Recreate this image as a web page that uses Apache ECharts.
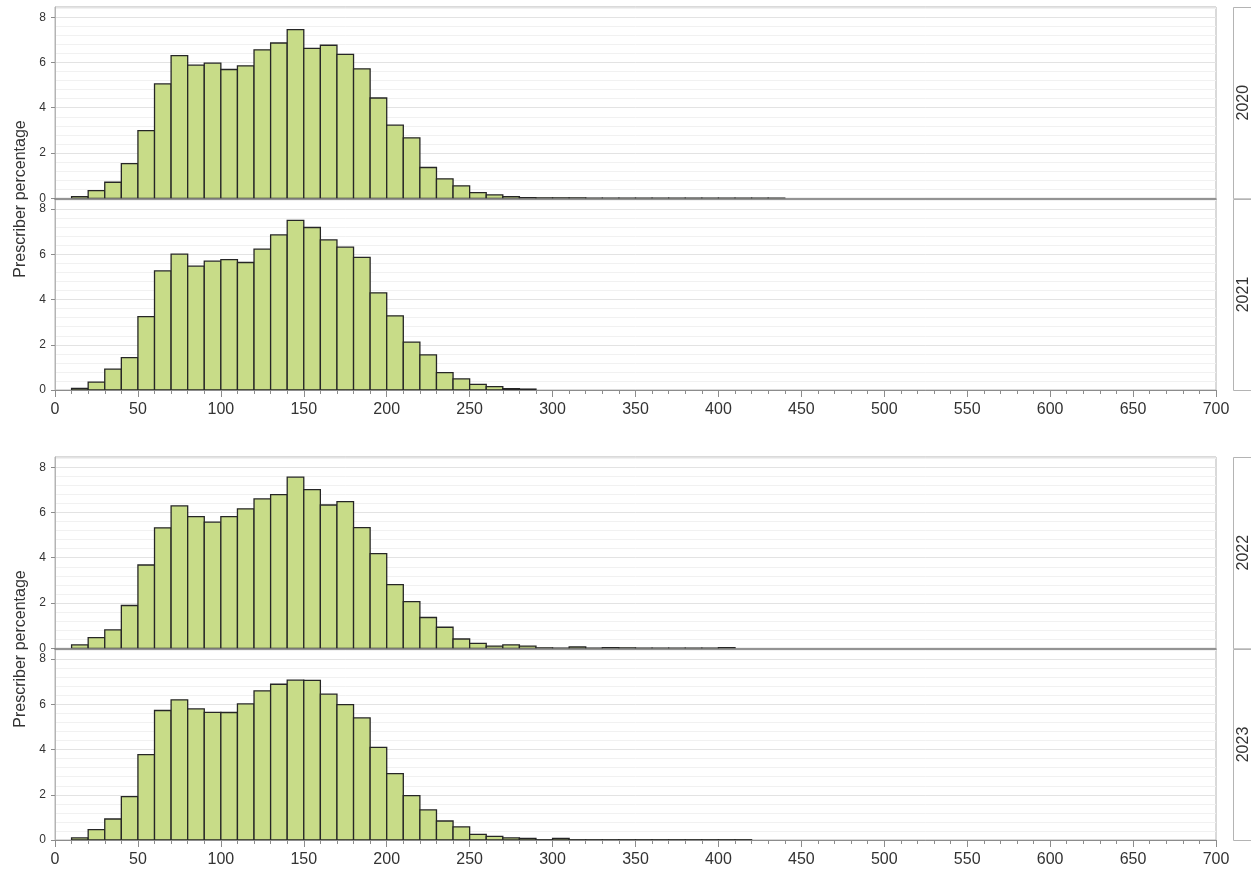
<!DOCTYPE html>
<html>
<head>
<meta charset="utf-8">
<script src="https://cdn.jsdelivr.net/npm/echarts@6/dist/echarts.min.js"></script>
<style>html,body{margin:0;padding:0;background:#fff}#c{width:1251px;height:878px}</style>
</head>
<body>
<div id="c"></div>
<script>
const years = ['2020', '2021', '2022', '2023'];
const yTitle = 'Prescriber percentage';
const binWidth = 10;
const binStarts = [0,10,20,30,40,50,60,70,80,90,100,110,120,130,140,150,160,170,180,190,
  200,210,220,230,240,250,260,270,280,290,300,310,320,330,340,350,360,370,380,390,
  400,410,420,430,440,450,460,470,480,490,500,510,520,530,540,550,560,570,580,590,
  600,610,620,630,640,650,660,670,680,690];
const v2020 = [0,0.07,0.34,0.71,1.53,2.99,5.05,6.30,5.88,5.97,
  5.69,5.85,6.56,6.86,7.45,6.62,6.76,6.36,5.72,4.43,
  3.23,2.67,1.36,0.86,0.55,0.25,0.15,0.07,0.03,0.02,
  0.02,0.02,0.01,0.01,0.01,0.01,0.01,0.01,0.01,0.01,
  0.01,0.01,0.01,0.01,0,0,0,0,0,0,
  0,0,0,0,0,0,0,0,0,0,
  0,0,0,0,0,0,0,0,0,0];
const v2021 = [0,0.07,0.35,0.92,1.43,3.25,5.27,6.01,5.48,5.70,
  5.77,5.64,6.23,6.86,7.50,7.19,6.64,6.32,5.87,4.30,
  3.28,2.12,1.55,0.77,0.49,0.25,0.15,0.06,0.04,0,
  0,0,0,0,0,0,0,0,0,0,
  0,0,0,0,0,0,0,0,0,0,
  0,0,0,0,0,0,0,0,0,0,
  0,0,0,0,0,0,0,0,0,0];
const v2022 = [0,0.15,0.47,0.81,1.89,3.68,5.32,6.29,5.82,5.57,
  5.82,6.16,6.60,6.79,7.56,7.01,6.33,6.48,5.33,4.18,
  2.81,2.06,1.36,0.93,0.41,0.22,0.10,0.15,0.10,0.02,
  0.01,0.06,0.01,0.03,0.02,0.01,0.01,0.01,0.01,0.01,
  0.03,0,0,0,0,0,0,0,0,0,
  0,0,0,0,0,0,0,0,0,0,
  0,0,0,0,0,0,0,0,0,0];
const v2023 = [0,0.09,0.46,0.93,1.92,3.78,5.73,6.20,5.80,5.65,
  5.64,6.02,6.60,6.89,7.07,7.06,6.45,5.99,5.40,4.10,
  2.94,1.96,1.33,0.84,0.58,0.25,0.16,0.09,0.07,0.01,
  0.07,0.01,0.01,0.01,0.01,0.01,0.01,0.01,0.01,0.01,
  0.01,0.01,0,0,0,0,0,0,0,0,
  0,0,0,0,0,0,0,0,0,0,
  0,0,0,0,0,0,0,0,0,0];
const seriesValues = [v2020, v2021, v2022, v2023];
const xMin = 0, xMax = 700, xInterval = 50;
const yMin = 0, yMax = 8.45, yInterval = 2, yMinorInterval = 0.4;

const FONT = '"Liberation Sans", Arial, sans-serif';
const panels = [
  {top: 7, height: 191.3, labels: false},
  {top: 199, height: 191, labels: true},
  {top: 457, height: 191.3, labels: false},
  {top: 649, height: 191, labels: true}
];

const grid = [], xAxis = [], yAxis = [], series = [], graphic = [];
panels.forEach((p, i) => {
  grid.push({left: 55, right: 35, top: p.top, height: p.height, show: true,
    borderColor: '#b4b4b4', borderWidth: 1, backgroundColor: '#fff', containLabel: false});
  xAxis.push({type: 'value', gridIndex: i, min: xMin, max: xMax, interval: xInterval,
    axisLine: {show: true, lineStyle: p.labels ? {color: '#8c8c8c', width: 1} : {color: '#7a7a7a', width: 1.6}},
    axisTick: {show: p.labels, length: 7, lineStyle: {color: '#8c8c8c'}},
    minorTick: {show: p.labels, splitNumber: 5, length: 4, lineStyle: {color: '#8c8c8c'}},
    axisLabel: {show: p.labels, margin: 12, fontSize: 16, color: '#333', fontFamily: FONT},
    splitLine: {show: false}, z: 3});
  yAxis.push({type: 'value', gridIndex: i, min: yMin, max: yMax, interval: yInterval, position: 'left',
    axisLine: {show: true, lineStyle: {color: '#b4b4b4'}},
    axisTick: {show: true, length: 4, lineStyle: {color: '#8c8c8c'}},
    axisLabel: {show: true, margin: 9, fontSize: 12, color: '#333', fontFamily: FONT, showMaxLabel: false},
    splitLine: {show: true, lineStyle: {color: '#e3e3e3', width: 1}}, z: 2});
  yAxis.push({type: 'value', gridIndex: i, min: yMin, max: yMax, interval: yMinorInterval, position: 'left',
    axisLine: {show: false}, axisTick: {show: false}, axisLabel: {show: false},
    splitLine: {show: true, lineStyle: {color: '#f1f1f1', width: 1}}, z: 1});
  const data = binStarts.map((s, k) => [s, s + binWidth, seriesValues[i][k]]);
  series.push({type: 'custom', xAxisIndex: i, yAxisIndex: 2 * i, data: data, clip: true, z: 5,
    encode: {x: [0, 1], y: 2},
    renderItem: function (params, api) {
      const x0 = api.value(0), x1 = api.value(1), v = api.value(2);
      if (!v) return null;
      const p0 = api.coord([x0, 0]);
      const p1 = api.coord([x1, v]);
      return {type: 'rect',
        shape: {x: p0[0], y: p1[1], width: p1[0] - p0[0], height: p0[1] - p1[1]},
        style: {fill: '#c8dc88', stroke: '#262626', lineWidth: 1.3}};
    }});
  // strip panel with year label
  graphic.push({type: 'rect', left: 1233, top: p.top, z: 10,
    shape: {x: 0, y: 0, width: 30, height: p.height},
    style: {fill: '#fff', stroke: '#b4b4b4', lineWidth: 1}});
  graphic.push({type: 'text', x: 1243.5, y: p.top + p.height / 2, rotation: Math.PI / 2, z: 11,
    style: {text: years[i], fontSize: 16, fill: '#333', fontFamily: FONT, align: 'center', verticalAlign: 'middle'}});
});
graphic.push({type: 'text', x: 21, y: 199, rotation: Math.PI / 2, z: 11,
  style: {text: yTitle, fontSize: 16, fill: '#333', fontFamily: FONT, align: 'center', verticalAlign: 'middle'}});
graphic.push({type: 'text', x: 21, y: 649, rotation: Math.PI / 2, z: 11,
  style: {text: yTitle, fontSize: 16, fill: '#333', fontFamily: FONT, align: 'center', verticalAlign: 'middle'}});

const chart = echarts.init(document.getElementById('c'), null, {renderer: 'canvas'});
chart.setOption({animation: false, backgroundColor: '#fff', grid, xAxis, yAxis, series, graphic});
</script>
</body>
</html>
